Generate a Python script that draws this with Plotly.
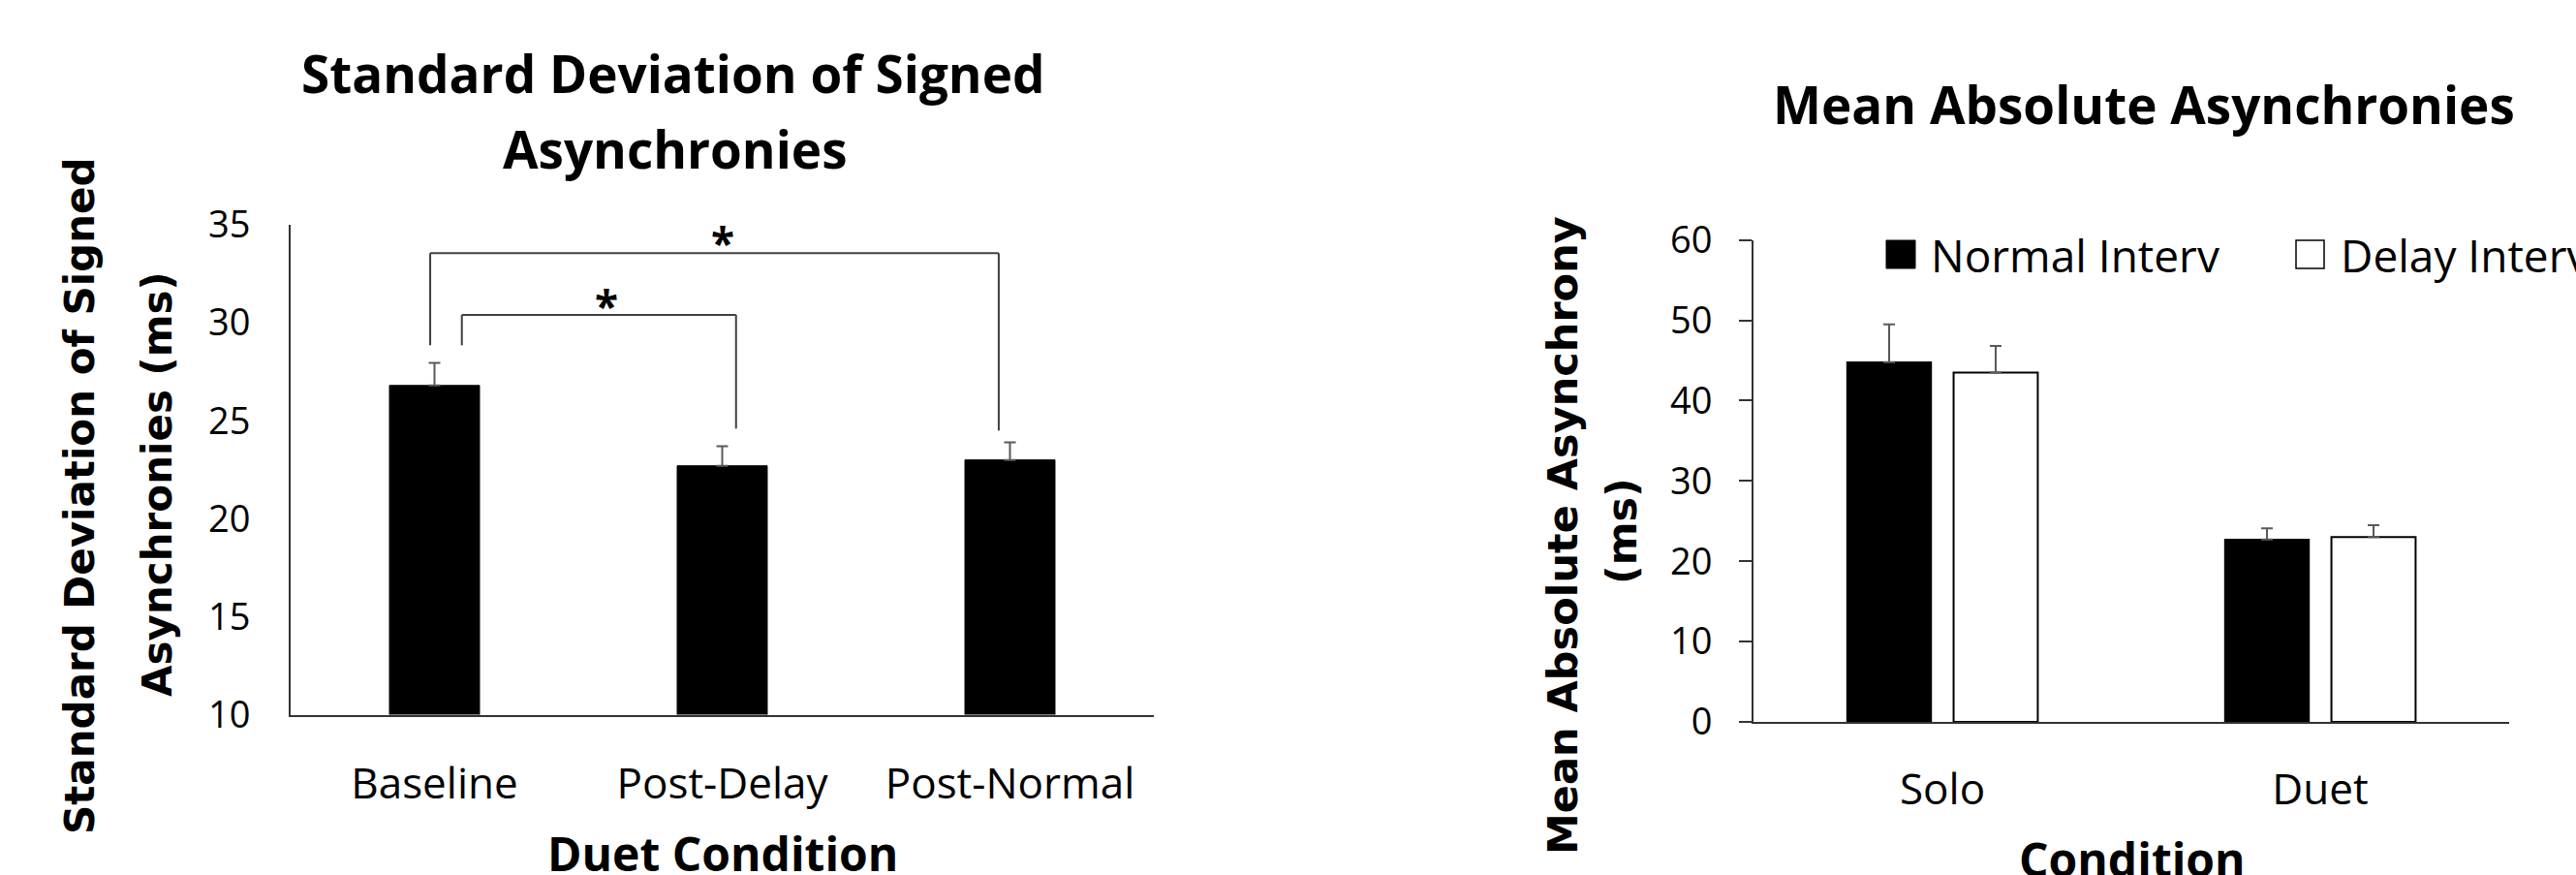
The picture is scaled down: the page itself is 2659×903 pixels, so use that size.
import plotly.graph_objects as go

W, H = 2659, 903

# ---- left panel: SD of signed asynchronies ----
left_categories = ["Baseline", "Post-Delay", "Post-Normal"]
left_means = [26.8, 22.7, 23.0]
left_err = [1.15, 1.0, 0.9]
left_ticks = [10, 15, 20, 25, 30, 35]

# significance brackets (category index units / ms)
bracket_x_left = [-0.015, 0.095]
bracket_x_right = [1.961, 1.048]
bracket_y_top = [33.55, 30.4]
bracket_y_left_end = [28.85, 28.85]
bracket_y_right_end = [24.5, 24.6]
star_x = [1.0, 0.598]
star_y = [34.5, 31.3]

# ---- right panel: mean absolute asynchronies ----
right_categories = ["Solo", "Duet"]
normal_means = [44.8, 22.7]
normal_err = [4.7, 1.4]
delay_means = [43.5, 23.0]
delay_err = [3.3, 1.5]
right_ticks = [0, 10, 20, 30, 40, 50, 60]
series_names = ["Normal Interv", "Delay Interv"]

TXT = "Open Sans"
YT = "DejaVu Sans"
ERR = "#595959"
AX = "#333333"


def px(x):
    return x / W


def py(y):
    return 1 - y / H


fig = go.Figure()

fig.add_trace(go.Bar(
    x=left_categories, y=left_means, width=0.313,
    marker=dict(color="black", line=dict(color="black", width=1)),
    error_y=dict(type="data", symmetric=False, array=left_err,
                 arrayminus=[0] * len(left_err), color=ERR, thickness=2, width=6),
    xaxis="x", yaxis="y", showlegend=False,
))

fig.add_trace(go.Bar(
    x=right_categories, y=normal_means, name=series_names[0],
    marker=dict(color="black", line=dict(color="black", width=1.5)),
    error_y=dict(type="data", symmetric=False, array=normal_err,
                 arrayminus=[0] * len(normal_err), color=ERR, thickness=2, width=6),
    xaxis="x2", yaxis="y2", showlegend=False,
))
fig.add_trace(go.Bar(
    x=right_categories, y=delay_means, name=series_names[1],
    marker=dict(color="white", line=dict(color="black", width=2)),
    error_y=dict(type="data", symmetric=False, array=delay_err,
                 arrayminus=[0] * len(delay_err), color=ERR, thickness=2, width=6),
    xaxis="x2", yaxis="y2", showlegend=False,
))

shapes = []
for xl, xr, yt, yl, yr in zip(bracket_x_left, bracket_x_right, bracket_y_top,
                              bracket_y_left_end, bracket_y_right_end):
    for x0, y0, x1, y1 in [(xl, yl, xl, yt), (xl, yt, xr, yt), (xr, yt, xr, yr)]:
        shapes.append(dict(type="line", xref="x", yref="y", x0=x0, y0=y0,
                           x1=x1, y1=y1, line=dict(color="#404040", width=2)))

# legend swatches
shapes.append(dict(type="rect", xref="paper", yref="paper",
                   x0=px(1947), x1=px(1977), y0=py(277), y1=py(248),
                   fillcolor="black", line=dict(color="black", width=1)))
shapes.append(dict(type="rect", xref="paper", yref="paper",
                   x0=px(2370), x1=px(2399), y0=py(277), y1=py(248),
                   fillcolor="white", line=dict(color="black", width=1.5)))

ann = []
for sx, sy in zip(star_x, star_y):
    ann.append(dict(x=sx, y=sy, xref="x", yref="y", text="<b>*</b>", showarrow=False,
                    font=dict(family=TXT, size=44, color="black"), yshift=-8))


def label(text, x, y, size, family=TXT, bold=True, angle=0, xanchor="center"):
    ann.append(dict(x=px(x), y=py(y), xref="paper", yref="paper",
                    text=f"<b>{text}</b>" if bold else text, showarrow=False,
                    textangle=angle, xanchor=xanchor, yanchor="middle",
                    font=dict(family=family, size=size, color="black")))


label("Standard Deviation of Signed", 695, 76, 53)
label("Asynchronies", 697, 153, 53)
label("Mean Absolute Asynchronies", 2213, 107, 53)
label("Duet Condition", 746, 880, 48)
label("Condition", 2201, 886, 48)
label("Standard Deviation of Signed", 82, 512, 42, family=YT, angle=-90)
label("Asynchronies (ms)", 162, 500, 42, family=YT, angle=-90)
label("Mean Absolute Asynchrony", 1613, 553, 43, family=YT, angle=-90)
label("(ms)", 1674, 548, 43, family=YT, angle=-90)
label(series_names[0], 1991, 263, 46, bold=False, xanchor="left")
label(series_names[1], 2414, 263, 46, bold=False, xanchor="left")

fig.update_layout(
    template="none",
    width=W, height=H, margin=dict(l=0, r=0, t=0, b=0, pad=0, autoexpand=False),
    paper_bgcolor="white", plot_bgcolor="white",
    barmode="group", bargap=0.436, bargroupgap=0.21,
    shapes=shapes, annotations=ann,
    xaxis=dict(domain=[px(300), px(1191)], anchor="y", showgrid=False, automargin=False,
               showline=True, linecolor=AX, linewidth=2, ticks="",
               tickfont=dict(family=TXT, size=44, color="black"),
               ticklabelstandoff=32, range=[-0.5, 2.5], fixedrange=True),
    yaxis=dict(domain=[py(737.5), py(232)], anchor="x", range=[10, 35], automargin=False,
               tickvals=left_ticks, showgrid=False, zeroline=False,
               showline=True, linecolor=AX, linewidth=2, ticks="",
               tickfont=dict(family=TXT, size=38, color="black"),
               ticklabelstandoff=32),
    xaxis2=dict(domain=[px(1810), px(2590)], anchor="y2", showgrid=False, automargin=False,
                showline=True, linecolor=AX, linewidth=2, ticks="",
                tickfont=dict(family=TXT, size=44, color="black"),
                ticklabelstandoff=30, range=[-0.5, 1.5]),
    yaxis2=dict(domain=[py(745), py(247.7)], anchor="x2", range=[0, 60], automargin=False,
                tickvals=right_ticks, showgrid=False, zeroline=False,
                showline=True, linecolor=AX, linewidth=2,
                ticks="outside", ticklen=13, tickwidth=2, tickcolor=AX,
                tickfont=dict(family=TXT, size=38, color="black"),
                ticklabelstandoff=20),
)

fig.write_html("out.html")
